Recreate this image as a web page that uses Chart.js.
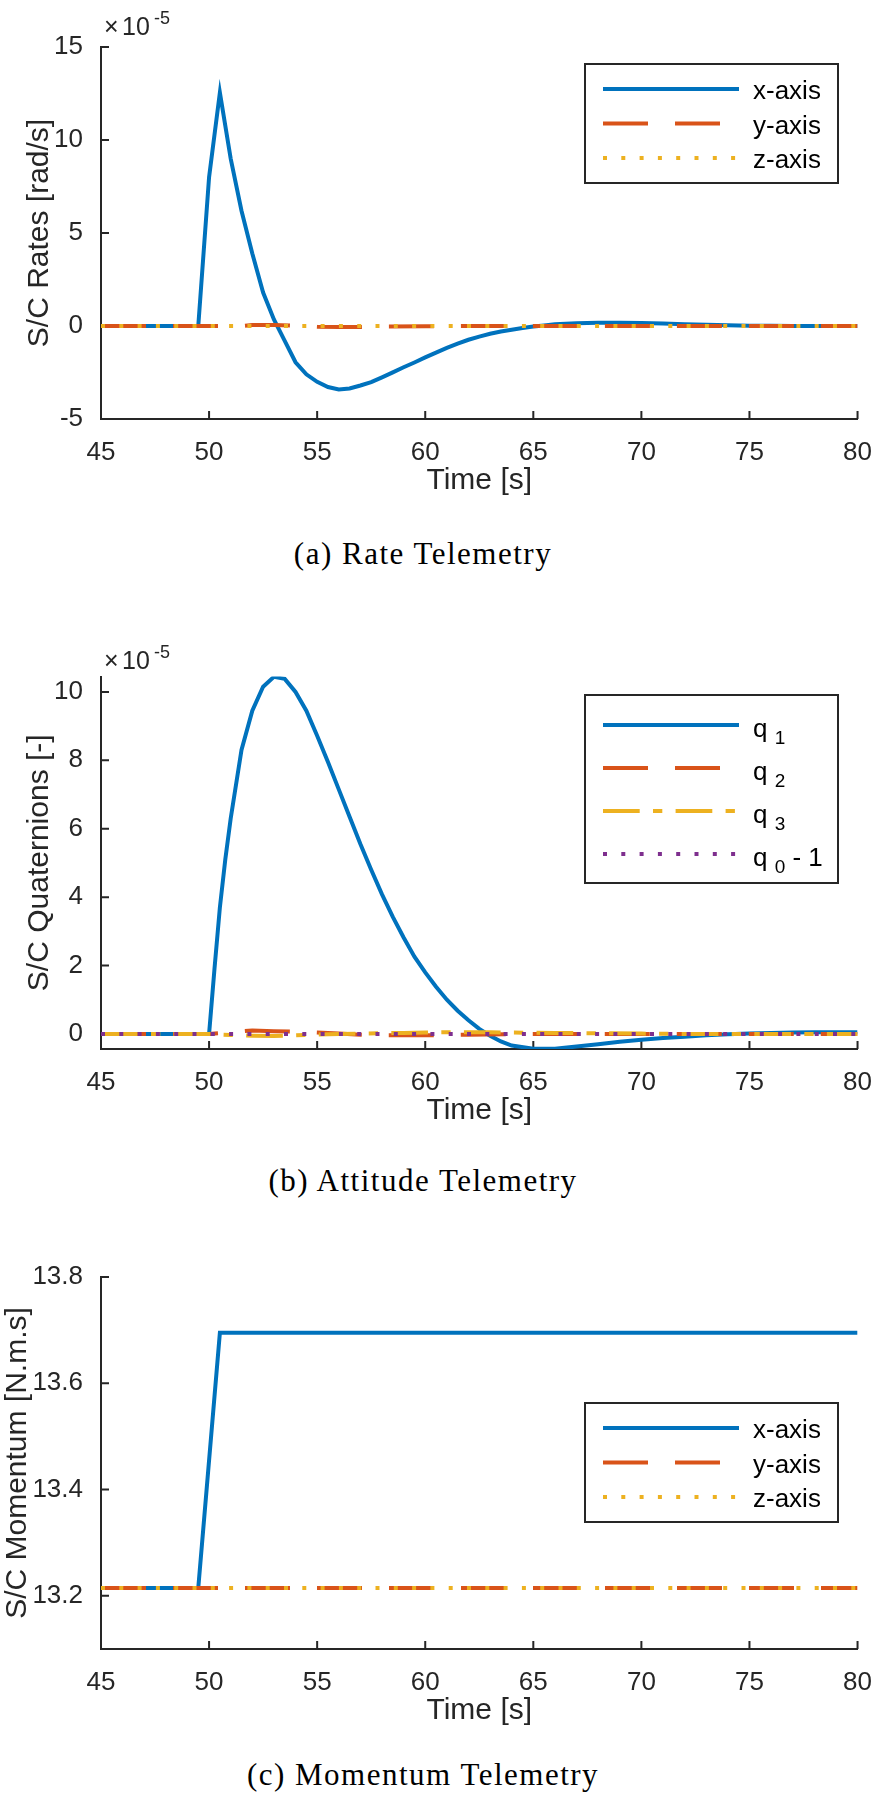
<!DOCTYPE html>
<html>
<head>
<meta charset="utf-8">
<title>S/C Telemetry</title>
<script src="https://cdn.jsdelivr.net/npm/chart.js@4.4.1/dist/chart.umd.min.js"></script>
<style>
  body { margin: 0; background: #fff; overflow: hidden; }
  #page { position: relative; width: 882px; height: 1812px; }
  canvas { position: absolute; left: 0; }
  .caption {
    position: absolute; left: 0; width: 846px; text-align: center;
    font-family: "Liberation Serif", "Times New Roman", serif;
    font-size: 31px; letter-spacing: 1.5px; line-height: 36px; color: #000;
  }
</style>
</head>
<body>
<div id="page">
  <canvas id="rates" width="882" height="520" style="top:0px"></canvas>
  <div class="caption" style="top:536px">(a) Rate Telemetry</div>
  <canvas id="quats" width="882" height="570" style="top:580px"></canvas>
  <div class="caption" style="top:1163px">(b) Attitude Telemetry</div>
  <canvas id="momentum" width="882" height="550" style="top:1200px"></canvas>
  <div class="caption" style="top:1757px">(c) Momentum Telemetry</div>
</div>
<script>
// ---- data ----
const timeTicks = [45, 50, 55, 60, 65, 70, 75, 80];

// (a) rates, in units of 1e-5 rad/s
const rateTicks = [-5, 0, 5, 10, 15];
const rateTickLabels = ['-5', '0', '5', '10', '15'];
const rateXTime = [45, 49.5, 50, 50.5, 51, 51.5, 52, 52.5, 53, 53.5, 54, 54.5, 55, 55.5, 56, 56.5, 57, 57.5, 58, 58.5, 59, 59.5, 60, 60.5, 61, 61.5, 62, 62.5, 63, 63.5, 64, 64.5, 65, 65.5, 66, 67, 68, 69, 70, 71, 72, 73, 74, 75, 76, 77, 80];
const rateX = [0, 0, 8.0, 12.55, 9.0, 6.2, 3.9, 1.8, 0.35, -0.8, -1.95, -2.6, -3.0, -3.28, -3.41, -3.36, -3.2, -3.02, -2.76, -2.49, -2.22, -1.96, -1.69, -1.43, -1.18, -0.95, -0.74, -0.57, -0.42, -0.3, -0.2, -0.11, -0.03, 0.03, 0.09, 0.15, 0.18, 0.18, 0.16, 0.13, 0.1, 0.07, 0.04, 0.02, 0.01, 0, 0];
const rateYTime = [45, 51.5, 52, 53, 54, 55, 56, 57, 58, 60, 62, 80];
const rateY = [0, 0, 0.05, 0.06, 0.02, -0.04, -0.06, -0.05, -0.03, -0.01, 0, 0];
const rateZTime = [45, 80];
const rateZ = [0, 0];

// (b) quaternions, in units of 1e-5
const quatTicks = [0, 2, 4, 6, 8, 10];
const quatTickLabels = ['0', '2', '4', '6', '8', '10'];
const q1Time = [45, 49.5, 50, 50.25, 50.5, 50.75, 51, 51.5, 52, 52.5, 53, 53.5, 54, 54.5, 55, 55.5, 56, 56.5, 57, 57.5, 58, 58.5, 59, 59.5, 60, 60.5, 61, 61.5, 62, 62.5, 63, 63.5, 64, 65, 66, 67, 68, 69, 70, 71, 72, 73, 74, 75, 76, 77, 78, 79, 80];
const q1 = [0, 0, 0, 1.9, 3.7, 5.1, 6.3, 8.3, 9.45, 10.15, 10.44, 10.38, 10.0, 9.45, 8.72, 7.95, 7.15, 6.35, 5.55, 4.8, 4.08, 3.42, 2.82, 2.26, 1.8, 1.38, 1.0, 0.68, 0.4, 0.15, -0.05, -0.22, -0.34, -0.43, -0.43, -0.37, -0.3, -0.23, -0.17, -0.12, -0.08, -0.04, -0.01, 0.01, 0.03, 0.04, 0.05, 0.05, 0.05];
const q2Time = [45, 50, 51, 52, 53, 54, 55, 56, 57, 58, 59, 60, 61, 62, 64, 66, 80];
const q2 = [0, 0, 0.05, 0.1, 0.08, 0.07, 0.04, 0.01, -0.02, -0.04, -0.04, -0.04, -0.03, -0.02, -0.01, 0, 0];
const q3Time = [45, 50, 51, 52, 53, 54, 55, 56, 57, 58, 59, 60, 61, 62, 63, 64, 66, 68, 70, 72, 80];
const q3 = [0, 0, -0.03, -0.05, -0.06, -0.04, -0.02, 0, 0.01, 0.02, 0.03, 0.04, 0.05, 0.05, 0.05, 0.04, 0.03, 0.02, 0.01, 0, 0];
const q0m1Time = [45, 80];
const q0m1 = [0, 0];

// (c) momentum, N.m.s
const momTicks = [13.2, 13.4, 13.6, 13.8];
const momTickLabels = ['13.2', '13.4', '13.6', '13.8'];
const momXTime = [45, 49.5, 50.5, 80];
const momX = [13.215, 13.215, 13.695, 13.695];
const momYTime = [45, 80];
const momY = [13.215, 13.215];
const momZTime = [45, 80];
const momZ = [13.215, 13.215];

// ---- styling ----
const BLUE = '#0072BD', ORANGE = '#D95319', YELLOW = '#EDB120', PURPLE = '#7E2F8E';
const INK = '#262626';
const SANS = '"Liberation Sans", Arial, Helvetica, sans-serif';
const SOLID = [], DASHED = [45, 27], DOTTED = [4, 14.3], DASHDOT = [36.7, 13.3, 9.3, 13.3];

function series(times, values) {
  return times.map((t, i) => ({ x: t, y: values[i] }));
}

function line(label, color, dash, data, order) {
  return {
    label: label, data: data, order: order,
    borderColor: color, backgroundColor: color, borderDash: dash,
    borderWidth: 4, pointRadius: 0, tension: 0, fill: false
  };
}

// draws "q_1" style labels with a subscript
function drawLabel(ctx, text, x, y) {
  const m = /^(.*?)_(\w)(.*)$/.exec(text);
  ctx.font = '26px ' + SANS;
  if (!m) { ctx.fillText(text, x, y); return; }
  ctx.fillText(m[1] + ' ', x, y);
  let cx = x + ctx.measureText(m[1] + ' ').width;
  ctx.font = '19px ' + SANS;
  ctx.fillText(m[2], cx, y + 7);
  cx += ctx.measureText(m[2]).width;
  ctx.font = '26px ' + SANS;
  ctx.fillText(m[3], cx, y);
}

// inward ticks, x10^n label and boxed legend, MATLAB style
const matlabAxes = {
  id: 'matlabAxes',
  beforeDatasetsDraw(chart) {
    const ctx = chart.ctx, area = chart.chartArea;
    const xs = chart.scales.x, ys = chart.scales.y;
    ctx.save();
    ctx.strokeStyle = INK;
    ctx.lineWidth = 2;
    ctx.beginPath();
    xs.ticks.forEach(t => {
      const p = xs.getPixelForValue(t.value);
      ctx.moveTo(p, area.bottom);
      ctx.lineTo(p, area.bottom - 8);
    });
    ys.ticks.forEach(t => {
      const p = ys.getPixelForValue(t.value);
      ctx.moveTo(area.left, p);
      ctx.lineTo(area.left + 8, p);
    });
    ctx.stroke();
    ctx.restore();
  },
  afterDatasetsDraw(chart, args, opts) {
    const ctx = chart.ctx, area = chart.chartArea;
    ctx.save();
    ctx.textAlign = 'left';
    ctx.textBaseline = 'alphabetic';
    if (opts.exponent) {
      const b = opts.exponent.baseline;
      ctx.fillStyle = INK;
      ctx.font = '25px ' + SANS;
      ctx.fillText('\u00D7', area.left + 3, b);
      ctx.fillText('10', area.left + 21, b);
      ctx.font = '18px ' + SANS;
      ctx.fillText(opts.exponent.power, area.left + 53, b - 11);
    }
    const lg = opts.legend;
    if (lg) {
      ctx.fillStyle = '#fff';
      ctx.fillRect(lg.x, lg.y, lg.w, lg.h);
      ctx.strokeStyle = INK;
      ctx.lineWidth = 2;
      ctx.strokeRect(lg.x, lg.y, lg.w, lg.h);
      chart.data.datasets.forEach((ds, i) => {
        const y = lg.y + lg.rows[i];
        ctx.strokeStyle = ds.borderColor;
        ctx.lineWidth = ds.borderWidth;
        ctx.setLineDash(ds.borderDash);
        ctx.beginPath();
        ctx.moveTo(603, y);
        ctx.lineTo(739, y);
        ctx.stroke();
        ctx.setLineDash([]);
        ctx.fillStyle = '#000';
        drawLabel(ctx, ds.label, 753, y + lg.baseline);
      });
    }
    ctx.restore();
  }
};

function makeChart(id, datasets, cfg) {
  return new Chart(document.getElementById(id), {
    type: 'line',
    data: { datasets: datasets },
    options: {
      responsive: false,
      animation: false,
      devicePixelRatio: 1,
      layout: { padding: { left: 0, right: 19, top: cfg.top, bottom: 0 } },
      plugins: {
        legend: { display: false },
        tooltip: { enabled: false },
        matlabAxes: { exponent: cfg.exponent, legend: cfg.legend }
      },
      scales: {
        x: {
          type: 'linear', min: 45, max: 80,
          afterFit(s) { s.height = 101; },
          afterBuildTicks(s) { s.ticks = timeTicks.map(v => ({ value: v })); },
          grid: { display: false },
          border: { color: INK, width: 2 },
          ticks: { color: INK, font: { family: SANS, size: 26 }, padding: 10, maxRotation: 0, autoSkip: false,
                   callback: (v, i) => String(timeTicks[i]) },
          title: { display: true, text: 'Time [s]', color: INK, font: { family: SANS, size: 30 },
                   padding: { top: 0, bottom: 21 } }
        },
        y: {
          type: 'linear', min: cfg.min, max: cfg.max,
          afterFit(s) { s.width = 101; },
          afterBuildTicks(s) { s.ticks = cfg.ticks.map(v => ({ value: v })); },
          grid: { display: false },
          border: { color: INK, width: 2 },
          ticks: { color: INK, font: { family: SANS, size: 26 }, padding: 10, autoSkip: false,
                   callback: (v, i) => cfg.labels[i] },
          title: { display: true, text: cfg.yTitle, color: INK, font: { family: SANS, size: 30 },
                   padding: { top: cfg.yTitlePad, bottom: 0 } }
        }
      }
    },
    plugins: [matlabAxes]
  });
}

makeChart('rates', [
  line('x-axis', BLUE, SOLID, series(rateXTime, rateX), 3),
  line('y-axis', ORANGE, DASHED, series(rateYTime, rateY), 2),
  line('z-axis', YELLOW, DOTTED, series(rateZTime, rateZ), 1)
], {
  top: 47, min: -5, max: 15, ticks: rateTicks, labels: rateTickLabels,
  yTitle: 'S/C Rates [rad/s]', yTitlePad: 22,
  exponent: { baseline: 35, power: '-5' },
  legend: { x: 585, y: 64, w: 253, h: 119, rows: [25, 59.5, 94], baseline: 10 }
});

makeChart('quats', [
  line('q_1', BLUE, SOLID, series(q1Time, q1), 4),
  line('q_2', ORANGE, DASHED, series(q2Time, q2), 3),
  line('q_3', YELLOW, DASHDOT, series(q3Time, q3), 2),
  line('q_0 - 1', PURPLE, DOTTED, series(q0m1Time, q0m1), 1)
], {
  top: 96.5, min: -0.44, max: 10.45, ticks: quatTicks, labels: quatTickLabels,
  yTitle: 'S/C Quaternions [-]', yTitlePad: 22,
  exponent: { baseline: 88.5, power: '-5' },
  legend: { x: 585, y: 115, w: 253, h: 188, rows: [30, 73, 116, 159], baseline: 12 }
});

makeChart('momentum', [
  line('x-axis', BLUE, SOLID, series(momXTime, momX), 3),
  line('y-axis', ORANGE, DASHED, series(momYTime, momY), 2),
  line('z-axis', YELLOW, DOTTED, series(momZTime, momZ), 1)
], {
  top: 77, min: 13.1, max: 13.8, ticks: momTicks, labels: momTickLabels,
  yTitle: 'S/C Momentum [N.m.s]', yTitlePad: 0,
  legend: { x: 585, y: 203, w: 253, h: 119, rows: [25, 59.5, 94], baseline: 10 }
});
</script>
</body>
</html>
